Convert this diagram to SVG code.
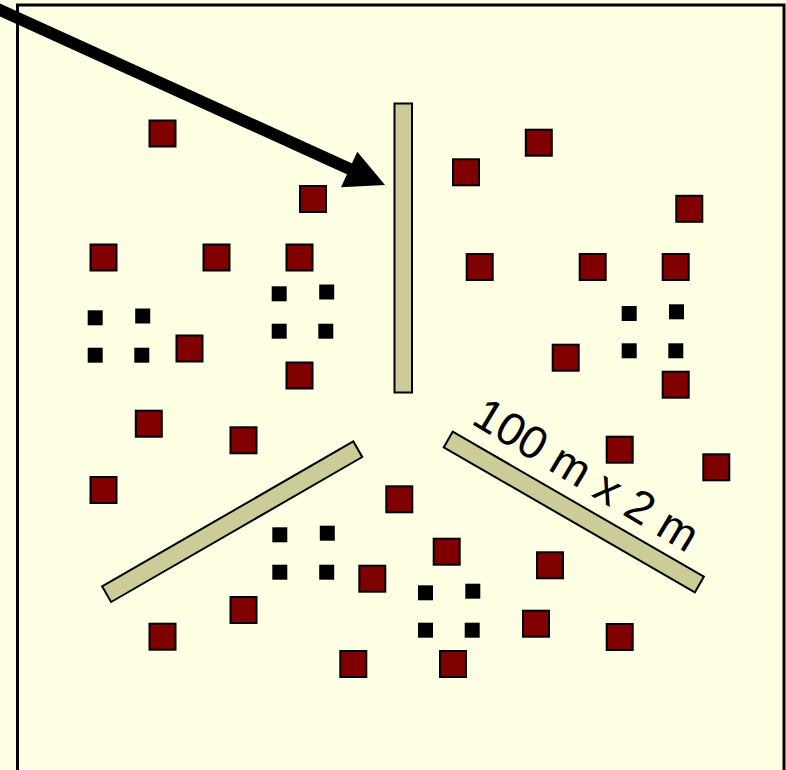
<svg xmlns="http://www.w3.org/2000/svg" width="786" height="770" viewBox="0 0 786 770">
<style>
.bg{fill:#FFFFE3}
.frame{fill:#FFFFE3;stroke:#000;stroke-width:3}
.r{fill:#800000;stroke:#000;stroke-width:2}
.b{fill:#000}
.bar{fill:#CCCC99;stroke:#000;stroke-width:2}
.lbl{font-family:"Liberation Sans",Arial,sans-serif;font-size:46px;fill:#000}
</style>
<rect class="bg" x="0" y="0" width="786" height="770"/>
<rect class="frame" x="17.5" y="5" width="766.5" height="800"/>

<g id="bars">
<rect id="bar-v" class="bar" x="394.5" y="103.5" width="17.5" height="289"/>
<rect id="bar-r" class="bar" x="-9" y="-145" width="18" height="290" transform="translate(573.8,512) rotate(-60)"/>
<rect id="bar-l" class="bar" x="-9" y="-145" width="18" height="290" transform="translate(232.2,521.7) rotate(60)"/>
</g>

<g id="red-squares">
<rect class="r" x="149.5" y="120.5" width="26" height="26"/>
<rect class="r" x="300" y="186" width="26" height="26"/>
<rect class="r" x="90.5" y="244.5" width="26" height="26"/>
<rect class="r" x="203.5" y="244.5" width="26" height="26"/>
<rect class="r" x="286.5" y="244.5" width="26" height="26"/>
<rect class="r" x="176.5" y="335.5" width="26" height="26"/>
<rect class="r" x="286.5" y="362.5" width="26" height="26"/>
<rect class="r" x="135.8" y="410.7" width="26" height="26"/>
<rect class="r" x="230.5" y="427.3" width="26" height="26"/>
<rect class="r" x="90.5" y="477" width="26" height="26"/>
<rect class="r" x="453" y="159.3" width="26" height="26"/>
<rect class="r" x="525.8" y="129.7" width="26" height="26"/>
<rect class="r" x="676.3" y="195.8" width="26" height="26"/>
<rect class="r" x="466.7" y="254" width="26" height="26"/>
<rect class="r" x="579.7" y="254" width="26" height="26"/>
<rect class="r" x="662.7" y="254" width="26" height="26"/>
<rect class="r" x="552.7" y="344.7" width="26" height="26"/>
<rect class="r" x="662.7" y="371.7" width="26" height="26"/>
<rect class="r" x="606.7" y="436.7" width="26" height="26"/>
<rect class="r" x="703.3" y="454.3" width="26" height="26"/>
<rect class="r" x="386.3" y="486.3" width="26" height="26"/>
<rect class="r" x="433.7" y="538.7" width="26" height="26"/>
<rect class="r" x="359.3" y="565.7" width="26" height="26"/>
<rect class="r" x="537" y="552.3" width="26" height="26"/>
<rect class="r" x="230.5" y="597" width="26" height="26"/>
<rect class="r" x="149.5" y="623.7" width="26" height="26"/>
<rect class="r" x="523" y="610.7" width="26" height="26"/>
<rect class="r" x="606.7" y="624" width="26" height="26"/>
<rect class="r" x="340.3" y="651" width="26" height="26"/>
<rect class="r" x="440" y="651" width="26" height="26"/>
</g>

<g id="black-group-a">
<rect class="b" x="87.7" y="310.3" width="15" height="15"/>
<rect class="b" x="135.2" y="308.5" width="15" height="15"/>
<rect class="b" x="87.7" y="347.7" width="15" height="15"/>
<rect class="b" x="134.3" y="347.7" width="15" height="15"/>
</g>
<g id="black-group-b">
<rect class="b" x="271.7" y="286.3" width="15" height="15"/>
<rect class="b" x="319.2" y="284.5" width="15" height="15"/>
<rect class="b" x="271.7" y="323.7" width="15" height="15"/>
<rect class="b" x="318.3" y="323.7" width="15" height="15"/>
</g>
<g id="black-group-c">
<rect class="b" x="621.7" y="306" width="15" height="15"/>
<rect class="b" x="669" y="304.3" width="15" height="15"/>
<rect class="b" x="621.7" y="343.3" width="15" height="15"/>
<rect class="b" x="668.3" y="343.3" width="15" height="15"/>
</g>
<g id="black-group-d">
<rect class="b" x="272.3" y="527.3" width="15" height="15"/>
<rect class="b" x="319.8" y="525.7" width="15" height="15"/>
<rect class="b" x="272.3" y="564.7" width="15" height="15"/>
<rect class="b" x="319.2" y="564.7" width="15" height="15"/>
</g>
<g id="black-group-e">
<rect class="b" x="418" y="585.3" width="15" height="15"/>
<rect class="b" x="465.3" y="583.7" width="15" height="15"/>
<rect class="b" x="418" y="622.7" width="15" height="15"/>
<rect class="b" x="464.7" y="622.7" width="15" height="15"/>
</g>

<g id="label">
<text class="lbl" transform="translate(470,423) rotate(31)">100 m x 2 m</text>
</g>

<g id="connectors">
<line x1="-4" y1="8.2" x2="352" y2="170" stroke="#000" stroke-width="12"/>
<polygon points="385,185 341,187.3 357.3,151.7" fill="#000"/>
</g>
</svg>
